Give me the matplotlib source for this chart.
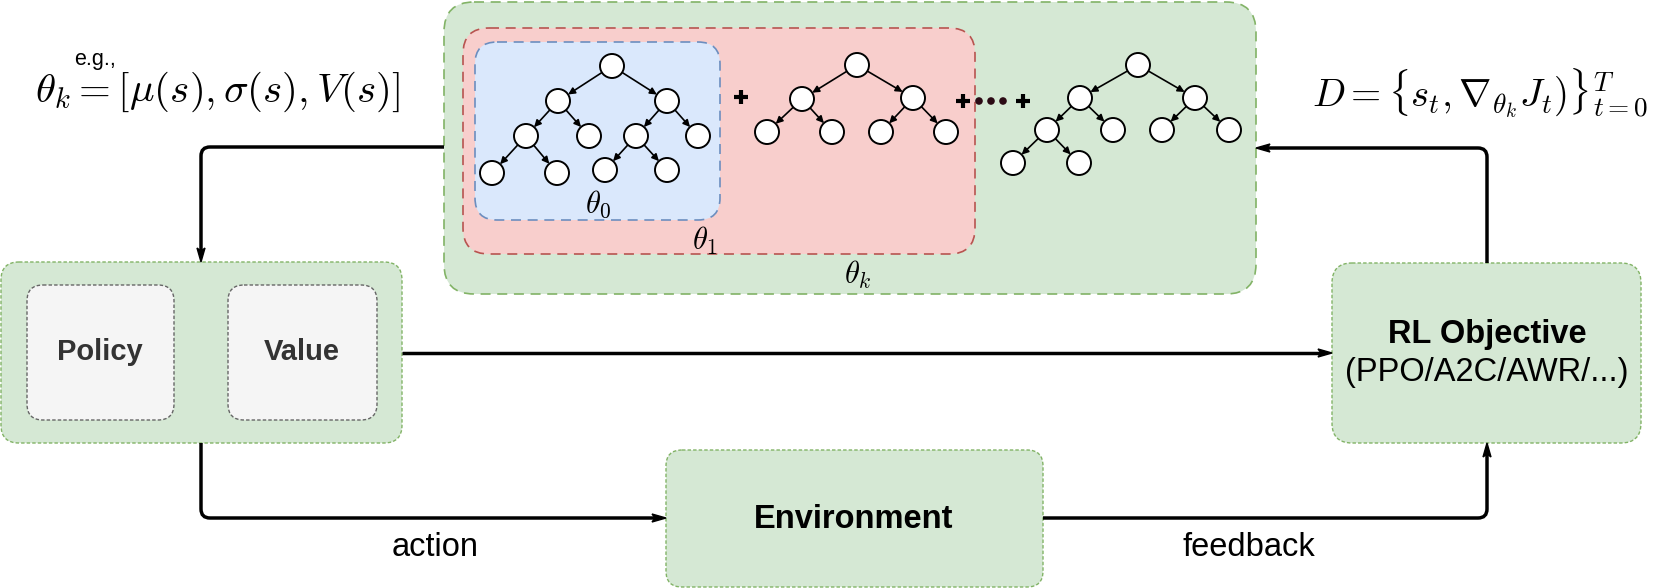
import numpy as np
import matplotlib
matplotlib.use("Agg")
import matplotlib.pyplot as plt
from matplotlib.patches import FancyBboxPatch, Circle, PathPatch, Polygon, FancyArrowPatch
from matplotlib.path import Path

plt.rcParams['font.family'] = ['Liberation Sans', 'DejaVu Sans']
plt.rcParams['mathtext.fontset'] = 'cm'

# ---------- content ----------
box_labels = ["Policy", "Value", "Environment"]
rl_title = "RL Objective"
rl_sub = "(PPO/A2C/AWR/...)"
edge_labels = ["action", "feedback"]
theta_labels = [r"$\theta_0$", r"$\theta_1$", r"$\theta_k$"]
formula_left = r"$\theta_k = [\mu(s), \sigma(s), V(s)]$"
formula_note = "e.g.,"
formula_right = r"$D = \{s_t, \nabla_{\theta_k} J_t)\}_{t=0}^T$"

# tree nodes (pixel coords) and parent->child edges
tree0_nodes = [(612, 66), (558, 101), (667, 101), (526, 136), (589, 136), (636, 136),
               (698, 136), (492, 173), (557, 173), (605, 170), (667, 170)]
tree0_edges = [(0, 1), (0, 2), (1, 3), (1, 4), (2, 5), (2, 6), (3, 7), (3, 8), (5, 9), (5, 10)]
tree1_nodes = [(857, 65), (802, 99), (913, 98), (767, 132), (832, 132), (881, 132), (946, 132)]
tree1_edges = [(0, 1), (0, 2), (1, 3), (1, 4), (2, 5), (2, 6)]
tree2_nodes = [(1138, 65), (1080, 98), (1195, 98), (1047, 130), (1113, 130), (1162, 130),
               (1229, 130), (1013, 163), (1079, 163)]
tree2_edges = [(0, 1), (0, 2), (1, 3), (1, 4), (2, 5), (2, 6), (3, 7), (3, 8)]

GREEN_F, GREEN_E = "#d5e8d4", "#82b366"
RED_F, RED_E = "#f8cecc", "#b85450"
BLUE_F, BLUE_E = "#dae8fc", "#6c8ebf"
GREY_F, GREY_E = "#f5f5f5", "#666666"

W, H = 1656, 588
fig = plt.figure(figsize=(W / 100, H / 100), dpi=100)
ax = fig.add_axes([0, 0, 1, 1])
ax.set_xlim(0, W)
ax.set_ylim(H, 0)
ax.axis('off')


def rbox(x0, y0, x1, y1, fc, ec, r, ls, lw=1.2, z=1):
    p = FancyBboxPatch((x0, y0), x1 - x0, y1 - y0,
                       boxstyle=f"round,pad=0,rounding_size={r}",
                       fc=fc, ec=ec, lw=lw, ls=ls, zorder=z)
    ax.add_patch(p)


def arrow_path(pts, r=9, lw=2.5, head=(14, 8)):
    pts = [np.array(p, float) for p in pts]
    L, hw = head
    d_end = pts[-1] - pts[-2]
    d_end /= np.linalg.norm(d_end)
    tip = pts[-1].copy()
    pts[-1] = tip - d_end * (L - 3)
    verts = [tuple(pts[0])]
    codes = [Path.MOVETO]
    for i in range(1, len(pts) - 1):
        d1 = pts[i] - pts[i - 1]
        d1 /= np.linalg.norm(d1)
        d2 = pts[i + 1] - pts[i]
        d2 /= np.linalg.norm(d2)
        verts += [tuple(pts[i] - d1 * r), tuple(pts[i]), tuple(pts[i] + d2 * r)]
        codes += [Path.LINETO, Path.CURVE3, Path.CURVE3]
    verts.append(tuple(pts[-1]))
    codes.append(Path.LINETO)
    ax.add_patch(PathPatch(Path(verts, codes), fc='none', ec='black', lw=lw,
                           capstyle='butt', zorder=5))
    n = np.array([-d_end[1], d_end[0]])
    back = tip - d_end * L
    notch = tip - d_end * (L - 3)
    ax.add_patch(Polygon([tip, back + n * hw / 2, notch, back - n * hw / 2],
                         closed=True, fc='black', ec='black', lw=1, zorder=6))


def draw_tree(nodes, edges, r=12):
    for a, b in edges:
        p = np.array(nodes[a], float)
        q = np.array(nodes[b], float)
        d = (q - p) / np.linalg.norm(q - p)
        ax.add_patch(FancyArrowPatch(tuple(p + d * r), tuple(q - d * r),
                                     arrowstyle='-|>', mutation_scale=10, lw=1.2,
                                     color='black', shrinkA=0, shrinkB=0, zorder=7))
    for x, y in nodes:
        ax.add_patch(Circle((x, y), r, fc='white', ec='black', lw=1.4, zorder=8))


# big nested boxes
rbox(444, 2, 1256, 294, GREEN_F, GREEN_E, 30, (0, (6, 4)), z=1)
rbox(463, 28, 975, 254, RED_F, RED_E, 26, (0, (6, 4)), z=2)
rbox(475, 42, 720, 220, BLUE_F, BLUE_E, 22, (0, (6, 4)), z=3)

draw_tree(tree0_nodes, tree0_edges)
draw_tree(tree1_nodes, tree1_edges)
draw_tree(tree2_nodes, tree2_edges)

# plus signs and dots
for px, py in [(741, 97), (963, 101), (1023, 101)]:
    ax.plot([px - 7, px + 7], [py, py], color='black', lw=3, solid_capstyle='butt', zorder=9)
    ax.plot([px, px], [py - 7, py + 7], color='black', lw=3, solid_capstyle='butt', zorder=9)
for dx in [979, 991, 1003]:
    ax.add_patch(Circle((dx, 101), 3.8, fc='#2b0a14', ec='none', zorder=9))

ax.text(598, 204, theta_labels[0], fontsize=22, ha='center', va='center', zorder=9)
ax.text(705, 241, theta_labels[1], fontsize=22, ha='center', va='center', zorder=9)
ax.text(858, 275, theta_labels[2], fontsize=22, ha='center', va='center', zorder=9)

# formulas
ax.text(35, 92, formula_left, fontsize=29.5, ha='left', va='center')
ax.text(95, 60, formula_note, fontsize=15.5, ha='center', va='center')
ax.text(1648, 93, formula_right, fontsize=28, ha='right', va='center')

# policy / value block
fine = (0, (2.5, 1.5))
rbox(1, 262, 402, 443, GREEN_F, GREEN_E, 18, fine, lw=1.0)
rbox(27, 285, 174, 420, GREY_F, GREY_E, 16, fine, lw=1.0, z=2)
rbox(228, 285, 377, 420, GREY_F, GREY_E, 16, fine, lw=1.0, z=2)
ax.text(100, 352, box_labels[0], fontsize=21, fontweight='bold', color='#333333',
        ha='center', va='center', zorder=3)
ax.text(302, 352, box_labels[1], fontsize=21, fontweight='bold', color='#333333',
        ha='center', va='center', zorder=3)

# RL objective
rbox(1332, 263, 1641, 443, GREEN_F, GREEN_E, 20, fine, lw=1.0)
ax.text(1487, 334, rl_title, fontsize=23.5, fontweight='bold', ha='center', va='center')
ax.text(1487, 373, rl_sub, fontsize=23.5, ha='center', va='center')

# environment
rbox(666, 450, 1043, 587, GREEN_F, GREEN_E, 16, fine, lw=1.0)
ax.text(854, 520, box_labels[2], fontsize=23.5, fontweight='bold', ha='center', va='center')

ax.text(435, 547, edge_labels[0], fontsize=23.5, ha='center', va='center')
ax.text(1249, 547, edge_labels[1], fontsize=23.5, ha='center', va='center')

# connectors
arrow_path([(444, 147), (201, 147), (201, 262)])
arrow_path([(402, 353), (1332, 353)])
arrow_path([(201, 443), (201, 518), (666, 518)])
arrow_path([(1043, 518), (1487, 518), (1487, 443)])
arrow_path([(1487, 263), (1487, 148), (1256, 148)])

fig.savefig("out.png", dpi=100)
